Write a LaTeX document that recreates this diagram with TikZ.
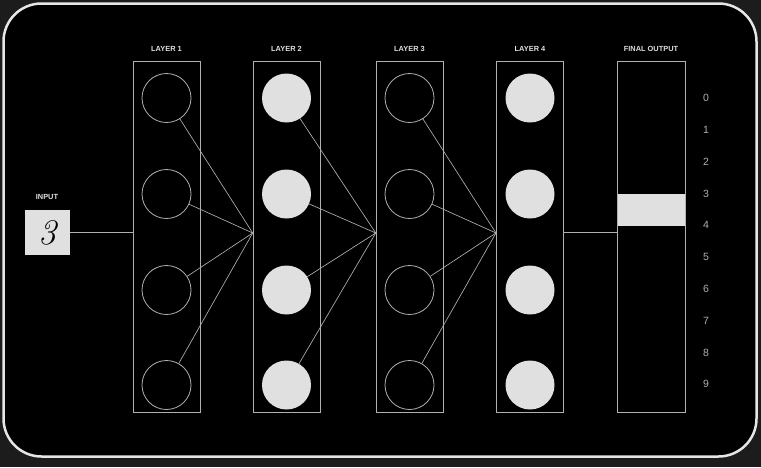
\documentclass[tikz,border=0pt]{standalone}
\usepackage{fontspec}
\setsansfont{Liberation Sans}
\definecolor{panel}{HTML}{1C1C1C}
\definecolor{rim}{HTML}{E6E6E6}
\definecolor{neuron}{HTML}{E0E0E0}
\definecolor{wire}{HTML}{B0B0B0}
\tikzset{
	layerbox/.style={draw=wire, line width=0.9pt, minimum width=67, minimum height=351, inner sep=0},
	hollow/.style={circle, draw=wire, line width=0.8pt, minimum size=49, inner sep=0},
	solid/.style={circle, fill=neuron, minimum size=49, inner sep=0},
	caption/.style={text=neuron, font=\sffamily\bfseries\fontsize{7.4}{8}\selectfont},
	digit/.style={text=wire, font=\sffamily\fontsize{10.5}{12}\selectfont},
	link/.style={draw=wire, line width=0.65pt}
}
\begin{document}
\begin{tikzpicture}[x=1pt, y=-1pt]
		\useasboundingbox (0,0) rectangle (761,467);
		\fill [panel] (0,0) rectangle (761,467);
		\draw [rim, fill=black, line width=2.5pt, rounded corners=38] (3.5,3.5) rectangle (756.5,456.5);

		%Entrada
		\node [fill=neuron, minimum size=45, inner sep=0] (in) at (47.5,232.5) {\fontsize{36}{36}\selectfont\itshape 3};
		\node [caption] (tin) at (47,197) {INPUT};

		%Capas
		\foreach \x/\s [count=\k] in {166.5/hollow, 286.5/solid, 409.5/hollow, 530/solid}{
			\node [layerbox] (L\k) at (\x,236.5) {};
			\node [caption] (t\k) at (\x,49) {LAYER \k};
			\foreach \y [count=\j] in {98,194,290,385}
				\node [\s] (n\k-\j) at (\x,\y) {};
		}
		\coordinate (j2) at (252.7,233);
		\coordinate (j3) at (375.7,233);
		\coordinate (j4) at (496,233);
		\foreach \k/\m in {1/2,2/3,3/4}
			\foreach \j in {1,...,4}
				\draw [link] (n\k-\j) -- (j\m);

		%Salida
		\node [fill=neuron, minimum width=68, minimum height=32, inner sep=0] (bar) at (651,210) {};
		\node [layerbox, minimum width=68] (out) at (651,236.5) {};
		\node [caption] (tout) at (651,49) {FINAL OUTPUT};
		\foreach \d in {0,...,9}
			\node [digit] (d\d) at (706,98+31.8*\d) {\d};

		\coordinate (a1) at (133,232);
		\coordinate (a4) at (563.5,232);
		\draw [link] (in.east |- a1) -- (a1);
		\draw [link] (a4) -- (a4 -| out.west);
	\end{tikzpicture}
\end{document}
